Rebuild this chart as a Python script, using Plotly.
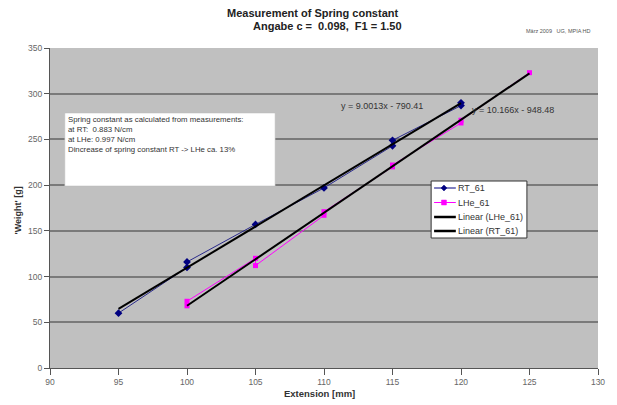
import plotly.graph_objects as go

# ---- data ----
rt_x = [95, 100, 100, 105, 110, 115, 115, 120, 120]
rt_y = [60, 110, 116, 157, 197, 243, 249, 287, 290]
lhe_x = [100, 100, 105, 105, 110, 110, 115, 115, 120, 120, 125]
lhe_y = [68, 73, 120, 112, 167, 171, 220, 222, 268, 271, 323]
rt_fit = [9.0013, -790.41]
lhe_fit = [10.166, -948.48]
rt_fit_x = [95, 120]
lhe_fit_x = [100, 125]
legend_names = ["RT_61", "LHe_61", "Linear (LHe_61)", "Linear (RT_61)"]

RT_COL = "#000080"
LHE_COL = "#ff00ff"

fig = go.Figure()
fig.add_trace(go.Scatter(x=rt_x, y=rt_y, mode="lines+markers", name=legend_names[0],
                         line=dict(color="#2a2a8a", width=1),
                         marker=dict(symbol="diamond", size=6, color=RT_COL)))
fig.add_trace(go.Scatter(x=lhe_x, y=lhe_y, mode="lines+markers", name=legend_names[1],
                         line=dict(color=LHE_COL, width=1),
                         marker=dict(symbol="square", size=5, color=LHE_COL)))
fig.add_trace(go.Scatter(x=lhe_fit_x, y=[lhe_fit[0] * v + lhe_fit[1] for v in lhe_fit_x],
                         mode="lines", name=legend_names[2],
                         line=dict(color="#000000", width=2)))
fig.add_trace(go.Scatter(x=rt_fit_x, y=[rt_fit[0] * v + rt_fit[1] for v in rt_fit_x],
                         mode="lines", name=legend_names[3],
                         line=dict(color="#000000", width=2)))

# plot-area geometry in pixels
L, R, T, B = 50, 605, 48, 368
W, H = R - L, B - T


def px(x):
    return (x - L) / W


def py(y):
    return (B - y) / H


font = "Liberation Sans, Arial, sans-serif"
fig.update_layout(
    width=617, height=405,
    margin=dict(l=L, r=617 - R, t=T, b=405 - B),
    paper_bgcolor="white", plot_bgcolor="#c0c0c0",
    font=dict(family=font, size=8.5, color="#555555"),
    showlegend=False,
    xaxis=dict(range=[90, 130], dtick=5, showgrid=False, zeroline=False,
               showline=True, linecolor="#555555", ticks="outside", ticklen=6,
               tickcolor="#555555", tickfont=dict(size=8.5, color="#666666")),
    yaxis=dict(range=[0, 350], dtick=50, showgrid=True, gridcolor="#7a7a7a",
               gridwidth=1.5, zeroline=False, showline=True, linecolor="#555555",
               ticks="outside", ticklen=5, tickcolor="#555555",
               tickfont=dict(size=8.5, color="#666666")),
)

# info text box
fig.add_shape(type="rect", xref="paper", yref="paper", x0=px(65), x1=px(278),
              y0=py(186), y1=py(113), fillcolor="white",
              line=dict(color="#bbbbbb", width=0.5), layer="above")

# custom legend (compact, like the original)
fig.add_shape(type="rect", xref="paper", yref="paper", x0=px(436), x1=px(533),
              y0=py(238), y1=py(181), fillcolor="white",
              line=dict(color="#333333", width=1), layer="above")
leg_y = [188, 202.5, 217, 231]
leg_styles = [(RT_COL, 1), (LHE_COL, 1), ("#000000", 2.5), ("#000000", 2.5)]
for yy, (col, w) in zip(leg_y, leg_styles):
    fig.add_shape(type="line", xref="paper", yref="paper", x0=px(439), x1=px(461),
                  y0=py(yy), y1=py(yy), line=dict(color=col, width=w), layer="above")
# diamond marker sample
d = 3
fig.add_shape(type="path", xref="paper", yref="paper", layer="above",
              path=f"M {px(449)},{py(leg_y[0]-d)} L {px(449+d)},{py(leg_y[0])} "
                   f"L {px(449)},{py(leg_y[0]+d)} L {px(449-d)},{py(leg_y[0])} Z",
              fillcolor=RT_COL, line=dict(color=RT_COL, width=0.5))
s = 2.5
fig.add_shape(type="rect", xref="paper", yref="paper", layer="above",
              x0=px(449 - s), x1=px(449 + s), y0=py(leg_y[1] + s), y1=py(leg_y[1] - s),
              fillcolor=LHE_COL, line=dict(color=LHE_COL, width=0.5))
for yy, name in zip(leg_y, legend_names):
    fig.add_annotation(text=name, xref="paper", yref="paper", x=px(461), y=py(yy),
                       xanchor="left", yanchor="middle", showarrow=False,
                       font=dict(size=9, color="#333333"))

annos = [
    dict(text="Spring constant as calculated from measurements:<br>at RT:  0.883 N/cm<br>at LHe: 0.997 N/cm<br>Dincrease of spring constant RT -> LHe ca. 13%",
         x=px(66), y=py(113), xanchor="left", yanchor="top", align="left",
         font=dict(size=7.8, color="#333333")),
    dict(text="y = 9.0013x - 790.41", x=px(343), y=py(106), xanchor="left",
         yanchor="middle", font=dict(size=9, color="#333333")),
    dict(text="y = 10.166x - 948.48", x=px(475), y=py(110), xanchor="left",
         yanchor="middle", font=dict(size=9, color="#333333")),
    dict(text="<b>Measurement of Spring constant</b>", x=px(316), y=py(13),
         xanchor="center", yanchor="middle", font=dict(size=11, color="#222222")),
    dict(text="<b>Angabe c =  0.098,  F1 = 1.50</b>", x=px(331), y=py(26),
         xanchor="center", yanchor="middle", font=dict(size=11, color="#222222")),
    dict(text="März 2009   UG, MPIA HD", x=px(565), y=py(31), xanchor="center",
         yanchor="middle", font=dict(size=5.5, color="#555555")),
    dict(text="<b>Extension [mm]</b>", x=px(323), y=py(393), xanchor="center",
         yanchor="middle", font=dict(size=9.5, color="#333333")),
    dict(text="<b>'Weight' [g]</b>", x=px(18), y=py(210), xanchor="center",
         yanchor="middle", textangle=-90, font=dict(size=9, color="#333333")),
]
for a in annos:
    fig.add_annotation(xref="paper", yref="paper", showarrow=False, **a)

fig.write_html("out.html", config={"displayModeBar": False},
               post_script="document.body.style.margin='0';")
